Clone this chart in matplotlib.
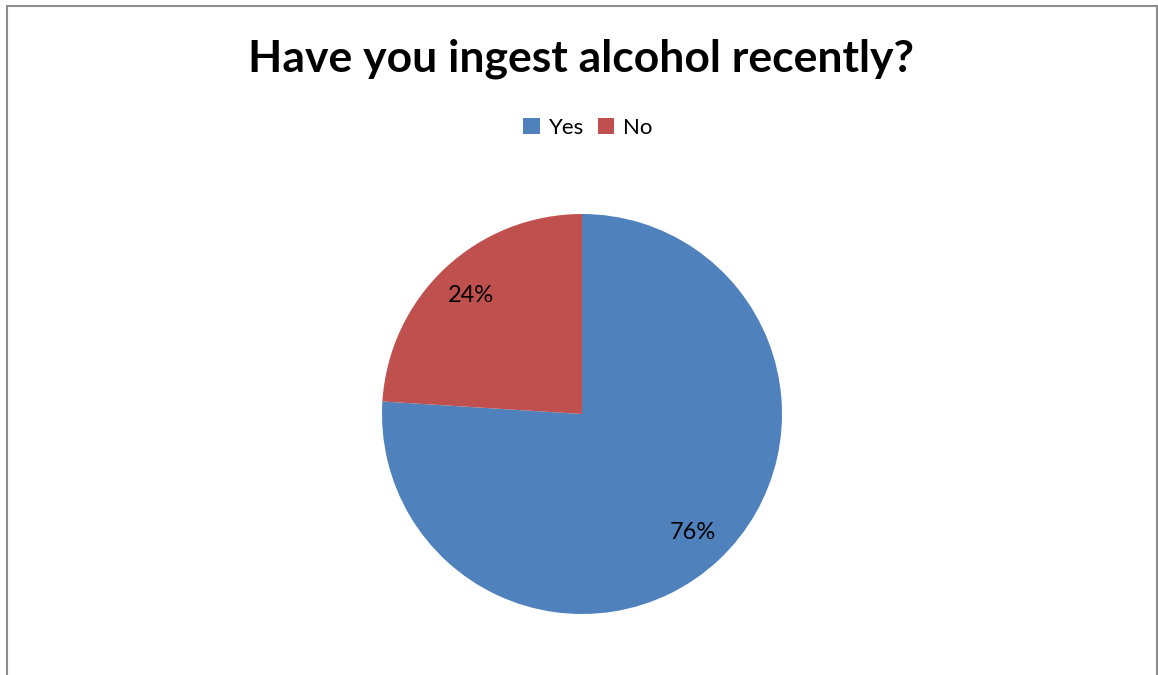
import matplotlib
matplotlib.use("Agg")
import matplotlib.pyplot as plt
from matplotlib.patches import Rectangle
from matplotlib.lines import Line2D

categories = ["Yes", "No"]
shares = [76, 24]
colors = ["#4F81BD", "#C0504D"]
title = "Have you ingest alcohol recently?"

W, H, DPI = 1158, 675, 100
fig = plt.figure(figsize=(W / DPI, H / DPI), dpi=DPI)
fig.patch.set_facecolor("white")

# chart frame (left, top, right edges)
frame_color = "#8c8c8c"
fig.add_artist(Line2D([6.5 / W, 6.5 / W], [0, 1 - 5.5 / H], transform=fig.transFigure,
                      color=frame_color, lw=1.5))
fig.add_artist(Line2D([6.5 / W, 1157 / W], [1 - 5.5 / H, 1 - 5.5 / H], transform=fig.transFigure,
                      color=frame_color, lw=1.5))
fig.add_artist(Line2D([1157 / W, 1157 / W], [0, 1 - 5.5 / H], transform=fig.transFigure,
                      color=frame_color, lw=1.5))

# pie axes: center (582, 414) px, radius 200 px
cx, cy, r = 582, 414, 200
ax = fig.add_axes([(cx - r) / W, (H - cy - r) / H, 2 * r / W, 2 * r / H])
wedges, texts, autotexts = ax.pie(
    shares, colors=colors, startangle=90, counterclock=False,
    autopct=lambda p: f"{p:.0f}%", pctdistance=0.81, radius=1.0,
    textprops=dict(fontsize=17, family="Lato", color="black"),
)
ax.set_xlim(-1, 1)
ax.set_ylim(-1, 1)
ax.set_aspect("equal")
ax.axis("off")

fig.text(581 / W, 1 - 59 / H, title, ha="center", va="center",
         fontsize=32, fontweight="bold", family="Lato")

handles = [Rectangle((0, 0), 1, 1, facecolor=c, edgecolor="none") for c in colors]
fig.legend(handles, categories, loc="center", bbox_to_anchor=(588 / W, 1 - 128 / H),
           ncol=2, frameon=False, prop=dict(family="Lato", size=16),
           handlelength=0.75, handleheight=0.75, handletextpad=0.4, columnspacing=0.6)

fig.savefig("out.png", dpi=DPI, facecolor="white")
